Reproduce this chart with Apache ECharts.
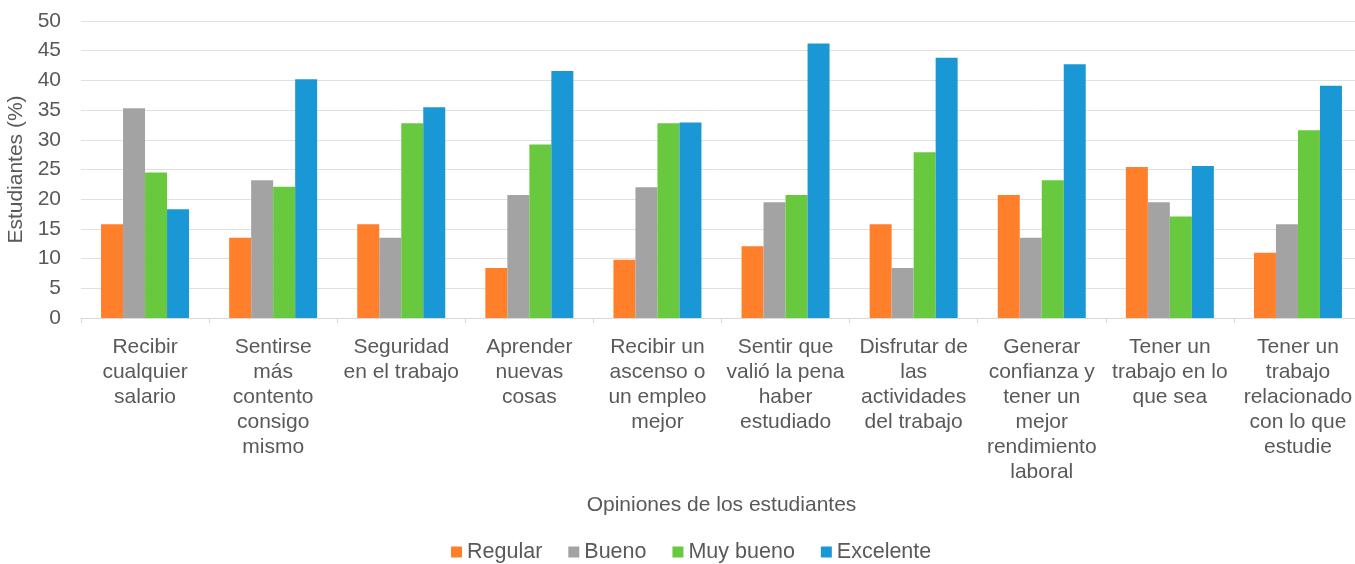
<!DOCTYPE html>
<html>
<head>
<meta charset="utf-8">
<script src="https://cdn.jsdelivr.net/npm/echarts@6/dist/echarts.min.js"></script>
<style>
  html, body { margin: 0; padding: 0; background: #fff; }
  #chart { width: 1355px; height: 564px; }
</style>
</head>
<body>
<div id="chart"></div>
<script>
// opiniones (categorías del eje x)
const categories = [
  'Recibir\ncualquier\nsalario',
  'Sentirse\nmás\ncontento\nconsigo\nmismo',
  'Seguridad\nen el trabajo',
  'Aprender\nnuevas\ncosas',
  'Recibir un\nascenso o\nun empleo\nmejor',
  'Sentir que\nvalió la pena\nhaber\nestudiado',
  'Disfrutar de\nlas\nactividades\ndel trabajo',
  'Generar\nconfianza y\ntener un\nmejor\nrendimiento\nlaboral',
  'Tener un\ntrabajo en lo\nque sea',
  'Tener un\ntrabajo\nrelacionado\ncon lo que\nestudie'
]

// porcentajes
const regular   = [15.8, 13.5, 15.8, 8.4, 9.8, 12.1, 15.8, 20.7, 25.4, 11.0]
const bueno     = [35.3, 23.2, 13.5, 20.7, 22.0, 19.5, 8.4, 13.5, 19.5, 15.8]
const muyBueno  = [24.5, 22.1, 32.8, 29.2, 32.8, 20.7, 27.9, 23.2, 17.1, 31.6]
const excelente = [18.3, 40.2, 35.5, 41.6, 32.9, 46.2, 43.8, 42.7, 25.6, 39.1]

const textColor = '#595959'
const font = 'Liberation Sans, Arial, sans-serif'

const chart = echarts.init(document.getElementById('chart'))

function barSeries(name, data, color) {
  return {
    name,
    type: 'bar',
    data,
    barWidth: 22,
    barGap: '0%',
    itemStyle: { color },
    emphasis: { disabled: true }
  }
}

chart.setOption({
  animation: false,
  textStyle: { fontFamily: font },
  grid: { left: 81, right: -7, top: 21, bottom: 246, containLabel: false, outerBoundsMode: 'none' },
  legend: {
    top: 536,
    left: 446,
    itemWidth: 11,
    itemHeight: 11,
    itemGap: 26,
    icon: 'rect',
    textStyle: { color: textColor, fontSize: 21.5, fontFamily: font },
    data: ['Regular', 'Bueno', 'Muy bueno', 'Excelente']
  },
  xAxis: {
    type: 'category',
    data: categories,
    name: 'Opiniones de los estudiantes',
    nameLocation: 'middle',
    nameGap: 177,
    nameTextStyle: { color: textColor, fontSize: 21, fontFamily: font },
    axisLine: { lineStyle: { color: '#d9d9d9' } },
    axisTick: { show: true, length: 5, lineStyle: { color: '#d9d9d9' } },
    axisLabel: {
      interval: 0,
      color: textColor,
      fontSize: 21,
      lineHeight: 25,
      margin: 17,
      fontFamily: font
    }
  },
  yAxis: {
    type: 'value',
    min: 0,
    max: 50,
    interval: 5,
    name: 'Estudiantes (%)',
    nameLocation: 'middle',
    nameGap: 51,
    nameTextStyle: { color: textColor, fontSize: 21, fontFamily: font },
    axisLine: { show: false },
    axisTick: { show: false },
    axisLabel: { color: textColor, fontSize: 21, margin: 20, fontFamily: font },
    splitLine: { lineStyle: { color: '#e0e0e0' } }
  },
  series: [
    barSeries('Regular', regular, '#FF7F2A'),
    barSeries('Bueno', bueno, '#A3A3A3'),
    barSeries('Muy bueno', muyBueno, '#68C93F'),
    barSeries('Excelente', excelente, '#1A98D5')
  ]
})
</script>
</body>
</html>
